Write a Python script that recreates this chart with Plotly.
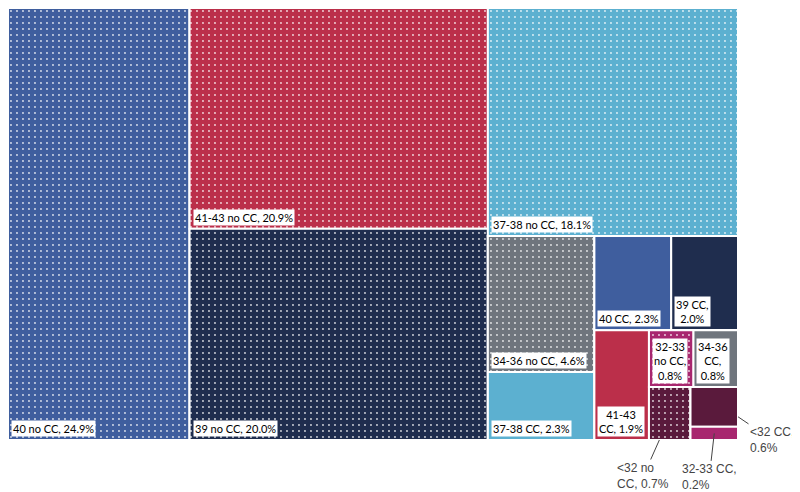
import plotly.graph_objects as go

# leaves = share of births by gestational age, with / without CC
# the g* nodes are only grouping nodes, they force the nested slice/dice layout
ids = ["40 no CC", "g1", "41-43 no CC", "39 no CC", "g2", "37-38 no CC", "g3",
       "g4", "34-36 no CC", "37-38 CC", "g5", "g6", "40 CC", "39 CC", "g7",
       "41-43 CC", "g8", "g9", "32-33 no CC", "34-36 CC", "g10", "<32 no CC",
       "g11", "<32 CC", "32-33 CC"]
parents = ["", "", "g1", "g1", "", "g2", "g2",
           "g3", "g4", "g4", "g3", "g5", "g6", "g6", "g5",
           "g7", "g7", "g8", "g9", "g9", "g8", "g10",
           "g10", "g11", "g11"]
shares = [24.9, 0, 20.9, 20.0, 0, 18.1, 0,
          0, 4.6, 2.3, 0, 0, 2.3, 2.0, 0,
          1.9, 0, 0, 0.8, 0.8, 0, 0.7,
          0, 0.6, 0.2]

# how some labels wrap
wrapped = {
    "39 CC": "39 CC,<br>{v}%",
    "41-43 CC": "41-43<br>CC, {v}%",
    "32-33 no CC": "32-33<br>no CC,<br>{v}%",
    "34-36 CC": "34-36<br>CC,<br>{v}%",
    "<32 no CC": "<32 no<br>CC, {v}%",
    "32-33 CC": "32-33 CC,<br>{v}%",
    "<32 CC": "<32 CC,<br>{v}%",
}
outside = ["<32 no CC", "32-33 CC", "<32 CC"]

age_colors = {
    "40": "#3f5e9e",
    "41-43": "#bb2f4a",
    "39": "#1f2d4e",
    "37-38": "#5cb0d0",
    "34-36": "#6f757d",
    "32-33": "#a8276f",
    "<32": "#5a1a3c",
}

is_leaf = [not i.startswith("g") for i in ids]
colors = [age_colors[i.split(" ")[0]] if leaf else "white" for i, leaf in zip(ids, is_leaf)]
shapes = ["." if "no CC" in i else "" for i in ids]

fig = go.Figure(go.Treemap(
    ids=ids,
    labels=[i if leaf else "" for i, leaf in zip(ids, is_leaf)],
    parents=parents,
    values=shares,
    branchvalues="remainder",
    sort=False,
    textinfo="none",
    hoverinfo="skip",
    tiling=dict(packing="slice-dice", pad=0),
    pathbar=dict(visible=False),
    marker=dict(
        colors=colors,
        line=dict(color="white", width=2),
        pad=dict(t=0, l=0, r=0, b=0),
        pattern=dict(shape=shapes, fgcolor="white", fgopacity=0.8,
                     size=6, solidity=0.08, fillmode="overlay"),
    ),
))

# work out the same slice/dice rectangles to put the label boxes in the corners
W, H = 730, 432
kids = {}
for i, p in zip(ids, parents):
    kids.setdefault(p, []).append(i)

def total(n):
    own = shares[ids.index(n)] if n in ids else 0
    return own + sum(total(c) for c in kids.get(n, []))

rects = {}
def place(n, x0, y0, x1, y1, depth):
    rects[n] = (x0, y0, x1, y1)
    ch = kids.get(n, [])
    s = sum(total(c) for c in ch)
    pos = x0 if depth % 2 == 0 else y0
    for c in ch:
        f = total(c) / s
        if depth % 2 == 0:
            w = (x1 - x0) * f
            place(c, pos, y0, pos + w, y1, depth + 1)
            pos += w
        else:
            h = (y1 - y0) * f
            place(c, x0, pos, x1, pos + h, depth + 1)
            pos += h

place("", 0, 0, W, H, 0)

inside_font = dict(family="Lato, Open Sans, sans-serif", size=11, color="black")
outside_font = dict(family="Liberation Sans, Arial, sans-serif", size=12, color="#444")

for i, v, leaf in zip(ids, shares, is_leaf):
    if not leaf or i in outside:
        continue
    x0, y0, x1, y1 = rects[i]
    txt = wrapped.get(i, i + ", {v}%").format(v=v)
    fig.add_annotation(x=(x0 + 3) / W, y=1 - (y1 - 3) / H, xref="paper", yref="paper",
                       text=txt, showarrow=False, xanchor="left", yanchor="bottom",
                       align="center", bgcolor="white", borderpad=1, font=inside_font)

# small cells: labels outside with a leader line
leader = {
    "<32 no CC": (0.25, 1.0, -16, 36),
    "32-33 CC": (0.5, 0.5, -5, 44),
    "<32 CC": (1.0, 0.75, 34, 23),
}
for i in outside:
    x0, y0, x1, y1 = rects[i]
    fx, fy, ax, ay = leader[i]
    v = shares[ids.index(i)]
    fig.add_annotation(x=(x0 + (x1 - x0) * fx) / W, y=1 - (y0 + (y1 - y0) * fy) / H,
                       xref="paper", yref="paper", text=wrapped[i].format(v=v),
                       showarrow=True, arrowhead=0, arrowwidth=1, arrowcolor="#444",
                       ax=ax, ay=ay, align="left", font=outside_font)

# page body has an 8px margin, so the figure is a bit smaller than the window
fig.update_layout(
    width=792, height=484,
    margin=dict(l=0, r=62, t=0, b=52),
    paper_bgcolor="white",
    showlegend=False,
)

fig.write_html("out.html")
